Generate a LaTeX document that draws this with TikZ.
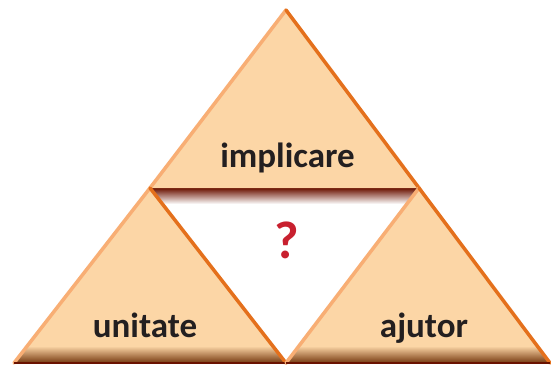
\documentclass[tikz,border=0pt]{standalone}
\usepackage{fontspec}
\setmainfont{Carlito}
\definecolor{peach}{HTML}{FCD6A6}
\definecolor{edgelight}{HTML}{F8AE74}
\definecolor{edgedark}{HTML}{E4701C}
\definecolor{basebrown}{HTML}{74380F}
\definecolor{baseline}{HTML}{6A1200}
\definecolor{qred}{HTML}{C8202F}
\definecolor{txt}{HTML}{231F20}
\tikzset{
  lightedge/.style={draw=edgelight, line width=3.5pt, line cap=round},
  darkedge/.style={draw=edgedark, line width=3.5pt, line cap=round},
  baseedge/.style={draw=baseline, line width=2pt},
  label/.style={font=\bfseries\fontsize{35}{35}\selectfont, text=txt, inner sep=0pt, anchor=base},
  qmark/.style={font=\bfseries\fontsize{53}{53}\selectfont, text=qred, inner sep=0pt, anchor=base}
}
\begin{document}
\begin{tikzpicture}[x=1pt,y=1pt]
\useasboundingbox (0,0) rectangle (551,365);
\fill[white] (0,0) rectangle (551,365);
% corner coordinates (y measured upward)
\coordinate (A)  at (286,355);
\coordinate (L1) at (150,177);
\coordinate (R1) at (419,177);
\coordinate (BL) at (14,2);
\coordinate (BM) at (286,2);
\coordinate (BR) at (550,2);
% centre white triangle
\begin{scope}
  \clip (L1) -- (R1) -- (BM) -- cycle;
  \fill[white] (L1) -- (R1) -- (BM) -- cycle;
  \shade[top color=baseline, bottom color=white] (140,161) rectangle (430,177);
\end{scope}
% top triangle
\fill[peach] (A) -- (L1) -- (R1) -- cycle;
\draw[lightedge] (L1) -- (A);
\draw[darkedge] (A) -- (R1);
% bottom left triangle
\begin{scope}
  \clip (L1) -- (BL) -- (BM) -- cycle;
  \fill[peach] (L1) -- (BL) -- (BM) -- cycle;
  \shade[top color=peach, bottom color=basebrown] (10,2) rectangle (290,19);
\end{scope}
\draw[lightedge] (BL) -- (L1);
\draw[darkedge] (L1) -- (BM);
\draw[baseedge] (BL) -- (BM);
% bottom right triangle
\begin{scope}
  \clip (R1) -- (BM) -- (BR) -- cycle;
  \fill[peach] (R1) -- (BM) -- (BR) -- cycle;
  \shade[top color=peach, bottom color=basebrown] (282,2) rectangle (552,19);
\end{scope}
\draw[lightedge] (BM) -- (R1);
\draw[darkedge] (R1) -- (BR);
\draw[baseedge] (BM) -- (BR);
% texts
\node[label] (impl) at (287.5,198) {implicare};
\node[label] (unit) at (145,28) {unitate};
\node[label] (ajut) at (424,28) {ajutor};
\node[qmark] (q) at (287,107) {?};
\end{tikzpicture}
\end{document}
